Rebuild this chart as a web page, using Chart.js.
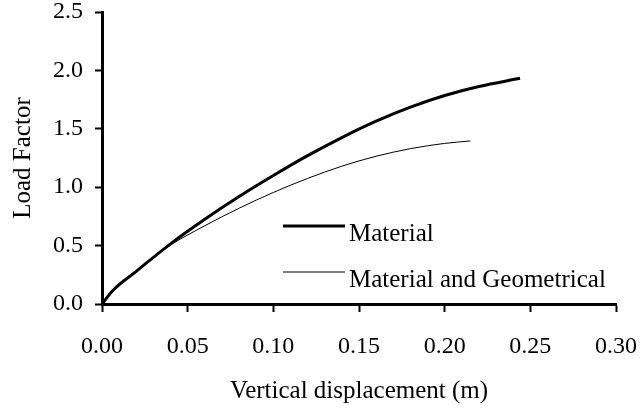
<!DOCTYPE html>
<html lang="en">
<head>
  <meta charset="UTF-8" />
  <title>Load Factor vs Vertical displacement</title>
  <style>
    body {
      margin: 0;
      padding: 0;
      background: #ffffff;
    }
    .wrap {
      width: 641px;
      height: 408px;
    }
  </style>
</head>
<body>
  <div class="wrap">
    <canvas id="chart" width="641" height="408"></canvas>
  </div>

  <script src="https://cdn.jsdelivr.net/npm/chart.js"></script>
  <script>
    // values
    const dispMaterial = [0, 0.0066, 0.02, 0.04, 0.06, 0.08, 0.10, 0.12, 0.14, 0.16, 0.18, 0.20, 0.22, 0.244];
    const loadMaterial = [0, 0.12, 0.28, 0.515, 0.725, 0.92, 1.10, 1.27, 1.425, 1.565, 1.685, 1.785, 1.862, 1.932];

    const dispGeom = [0, 0.0066, 0.02, 0.03, 0.04, 0.06, 0.08, 0.10, 0.12, 0.14, 0.16, 0.18, 0.20, 0.215];
    const loadGeom = [0, 0.12, 0.28, 0.40, 0.505, 0.67, 0.82, 0.955, 1.075, 1.18, 1.265, 1.33, 1.375, 1.396];

    const seriesNames = ["Material", "Material and Geometrical"];
    const xTicks = [0, 0.05, 0.10, 0.15, 0.20, 0.25, 0.30];
    const yTicks = [0, 0.5, 1.0, 1.5, 2.0, 2.5];

    const serif = "'Liberation Serif', 'Times New Roman', serif";

    function toPoints(xs, ys) {
      return xs.map((x, i) => ({ x: x, y: ys[i] }));
    }

    // legend drawn inside the plot, line sample + text
    const innerLegend = {
      id: "innerLegend",
      afterDraw(chart) {
        const ctx = chart.ctx;
        const rows = [
          { y: 226, width: 3 },
          { y: 272, width: 1 }
        ];
        ctx.save();
        ctx.font = "25px " + serif;
        ctx.fillStyle = "#000";
        ctx.textBaseline = "alphabetic";
        rows.forEach((r, i) => {
          ctx.beginPath();
          ctx.lineWidth = r.width;
          ctx.strokeStyle = "#000";
          ctx.moveTo(283, r.y);
          ctx.lineTo(345, r.y);
          ctx.stroke();
          ctx.fillText(seriesNames[i], 349, r.y + 15);
        });
        ctx.restore();
      }
    };

    new Chart(document.getElementById("chart"), {
      type: "line",
      data: {
        datasets: [
          {
            label: seriesNames[0],
            data: toPoints(dispMaterial, loadMaterial),
            borderColor: "#000",
            borderWidth: 3,
            pointRadius: 0,
            cubicInterpolationMode: "monotone",
            fill: false
          },
          {
            label: seriesNames[1],
            data: toPoints(dispGeom, loadGeom),
            borderColor: "#000",
            borderWidth: 1,
            pointRadius: 0,
            cubicInterpolationMode: "monotone",
            fill: false
          }
        ]
      },
      options: {
        responsive: false,
        animation: false,
        layout: { padding: { top: 12, right: 25, left: 0, bottom: 0 } },
        plugins: {
          legend: { display: false },
          tooltip: { enabled: false }
        },
        scales: {
          x: {
            type: "linear",
            min: 0,
            max: 0.3,
            afterBuildTicks(scale) {
              scale.ticks = xTicks.map(v => ({ value: v }));
            },
            afterFit(scale) {
              scale.height = 104;
              scale.paddingRight = 0;
              scale.paddingLeft = 0;
            },
            grid: {
              drawOnChartArea: false,
              tickLength: 8,
              tickWidth: 2,
              tickColor: "#000"
            },
            border: { color: "#000", width: 3 },
            ticks: {
              color: "#000",
              padding: 20,
              maxRotation: 0,
              font: { family: serif, size: 24 },
              callback: v => v.toFixed(2)
            },
            title: {
              display: true,
              text: "Vertical displacement (m)",
              color: "#000",
              font: { family: serif, size: 25 },
              padding: { top: 0, bottom: 2 }
            }
          },
          y: {
            type: "linear",
            min: 0,
            max: 2.5,
            afterBuildTicks(scale) {
              scale.ticks = yTicks.map(v => ({ value: v }));
            },
            afterFit(scale) {
              scale.width = 102;
              scale.paddingTop = 0;
            },
            grid: {
              drawOnChartArea: false,
              tickLength: 7,
              tickWidth: 2,
              tickColor: "#000"
            },
            border: { color: "#000", width: 3 },
            ticks: {
              color: "#000",
              padding: 12,
              font: { family: serif, size: 24 },
              callback: v => v.toFixed(1)
            },
            title: {
              display: true,
              text: "Load Factor",
              color: "#000",
              font: { family: serif, size: 25 },
              padding: { top: 8, bottom: 0 }
            }
          }
        }
      },
      plugins: [innerLegend]
    });
  </script>
</body>
</html>
